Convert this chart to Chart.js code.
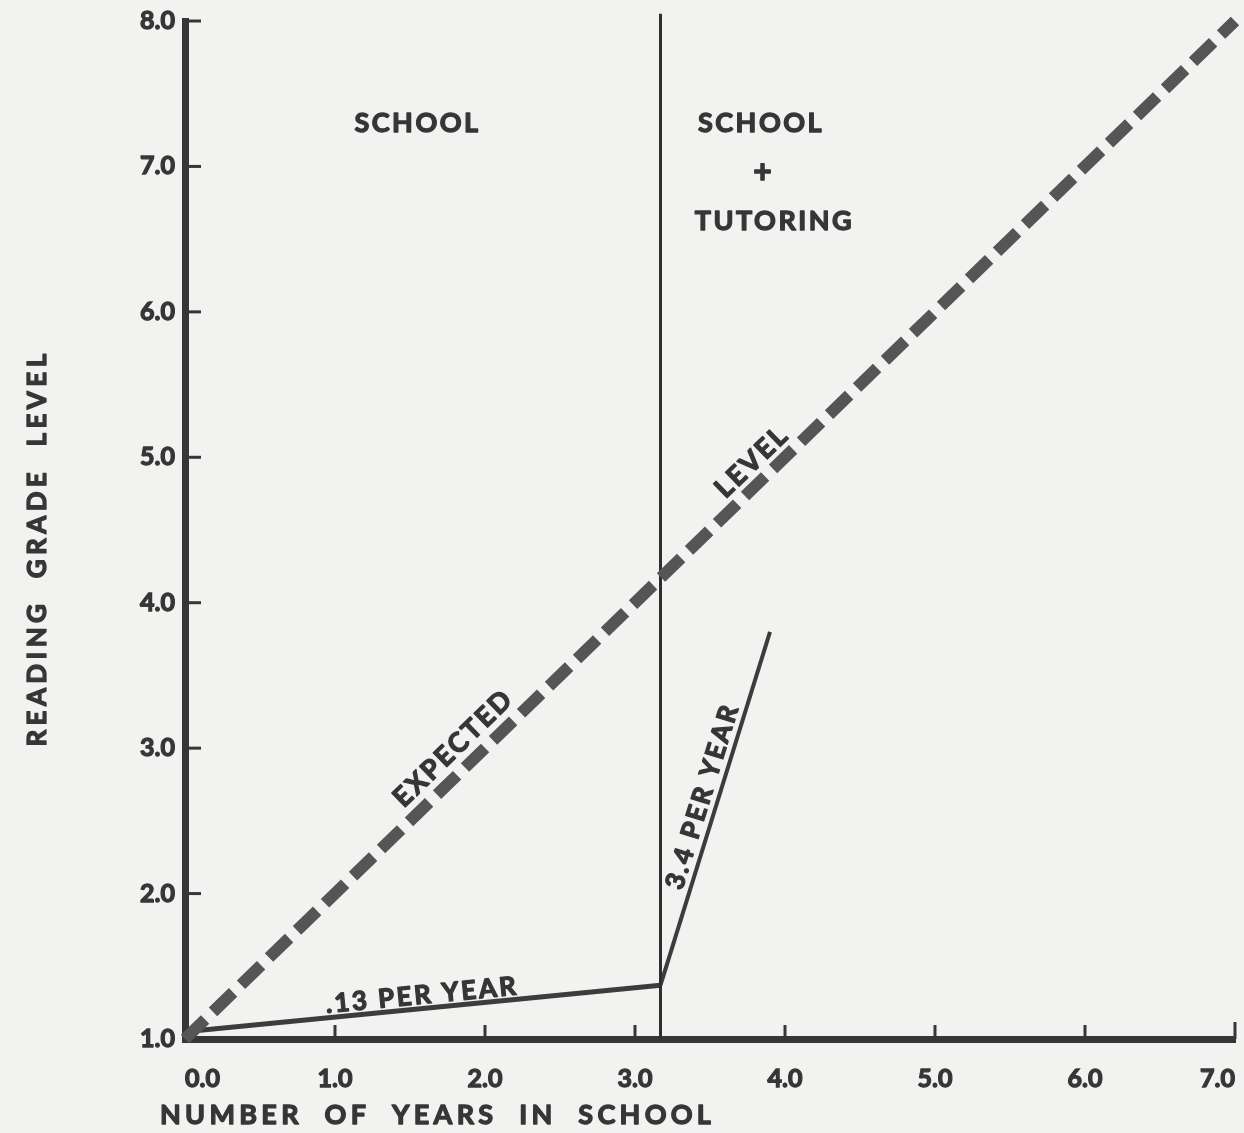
<!DOCTYPE html>
<html>
<head>
<meta charset="utf-8">
<script src="https://cdn.jsdelivr.net/npm/chart.js@4.4.1/dist/chart.umd.min.js"></script>
<style>
  html, body { margin: 0; padding: 0; background: #f2f2f0; }
  #wrap { width: 1244px; height: 1133px; position: relative; }
</style>
</head>
<body>
<div id="wrap"><canvas id="chart-reading"></canvas></div>
<script>
// tick values
var xTicks = [0, 1, 2, 3, 4, 5, 6, 7];
var yTicks = [1, 2, 3, 4, 5, 6, 7, 8];

// expected grade level (dashed)
var expectedX = [0, 7];
var expectedY = [1.0, 8.0];

// school only, .13 per year
var schoolX = [0, 3.17];
var schoolY = [1.05, 1.37];

// school + tutoring, 3.4 per year
var tutorX = [3.17, 3.9];
var tutorY = [1.37, 3.8];

// divider between the two periods
var dividerX = [3.17, 3.17];
var dividerY = [1.0, 8.05];

var INK = '#363636';
var FONT = 'Lato, "DejaVu Sans", sans-serif';
var WEIGHT = 'bold';
var STROKE = 1.3;

function pts(xs, ys) {
    return xs.map(function (x, i) { return { x: x, y: ys[i] }; });
}

// text labels placed in data units
var notes = [
    { text: 'SCHOOL', x: 1.55, y: 7.30, angle: 0, size: 27, spacing: 2.5 },
    { text: 'SCHOOL', x: 3.84, y: 7.30, angle: 0, size: 27, spacing: 2.5 },
    { text: '+', x: 3.85, y: 6.96, angle: 0, size: 32, spacing: 0 },
    { text: 'TUTORING', x: 3.93, y: 6.62, angle: 0, size: 27, spacing: 2.5 },
    { text: '.13 PER YEAR', x: 1.58, y: 1.30, angle: -5.5, size: 26, spacing: 2.5 },
    { text: '3.4 PER YEAR', x: 3.45, y: 2.67, angle: -72.8, size: 26, spacing: 2.5 },
    { text: 'EXPECTED', x: 1.79, y: 3.0, angle: -44.1, size: 27, spacing: 2.5 },
    { text: 'LEVEL', x: 3.78, y: 4.97, angle: -44.1, size: 27, spacing: 2.5 }
];

function inkText(ctx, text, x, y) {
    ctx.fillStyle = INK;
    ctx.strokeStyle = INK;
    ctx.lineWidth = STROKE;
    ctx.lineJoin = 'round';
    ctx.fillText(text, x, y);
    ctx.strokeText(text, x, y);
}

function drawText(ctx, text, px, py, angle, size, spacing) {
    ctx.save();
    ctx.translate(px, py);
    ctx.rotate(angle * Math.PI / 180);
    ctx.font = WEIGHT + ' ' + size + 'px ' + FONT;
    ctx.letterSpacing = spacing + 'px';
    ctx.textAlign = 'center';
    ctx.textBaseline = 'middle';
    inkText(ctx, text, 0, 0);
    ctx.restore();
}

var paperPlugin = {
    id: 'paper',
    beforeDraw: function (chart) {
        var ctx = chart.ctx;
        ctx.save();
        ctx.fillStyle = '#f2f2f0';
        ctx.fillRect(0, 0, chart.width, chart.height);
        ctx.restore();
    }
};

var notesPlugin = {
    id: 'notes',
    afterDraw: function (chart) {
        var ctx = chart.ctx;
        var xs = chart.scales.x, ys = chart.scales.y;
        var area = chart.chartArea;

        // inward tick marks
        ctx.save();
        ctx.strokeStyle = INK;
        ctx.lineWidth = 3;
        xTicks.forEach(function (v) {
            if (v === 0) return;
            var px = xs.getPixelForValue(v);
            ctx.beginPath();
            ctx.moveTo(px, area.bottom);
            ctx.lineTo(px, area.bottom - (v === 7 ? 17 : 14));
            ctx.stroke();
        });
        yTicks.forEach(function (v) {
            if (v === 1) return;
            var py = ys.getPixelForValue(v);
            ctx.beginPath();
            ctx.moveTo(area.left, py);
            ctx.lineTo(area.left + 16, py);
            ctx.stroke();
        });
        ctx.restore();

        notes.forEach(function (n) {
            drawText(ctx, n.text, xs.getPixelForValue(n.x), ys.getPixelForValue(n.y),
                n.angle, n.size, n.spacing);
        });

        // axis titles
        ctx.save();
        ctx.font = WEIGHT + ' 27px ' + FONT;
        ctx.letterSpacing = '4.3px';
        ctx.textAlign = 'left';
        ctx.textBaseline = 'alphabetic';
        inkText(ctx, 'NUMBER  OF  YEARS  IN  SCHOOL', 160, 1124);
        ctx.restore();

        ctx.save();
        ctx.translate(46, 548);
        ctx.rotate(-Math.PI / 2);
        ctx.font = WEIGHT + ' 26px ' + FONT;
        ctx.letterSpacing = '4.4px';
        ctx.textAlign = 'center';
        ctx.textBaseline = 'alphabetic';
        inkText(ctx, 'READING  GRADE  LEVEL', 0, 0);
        ctx.restore();
    }
};

var ctx = document.getElementById('chart-reading');
new Chart(ctx, {
    type: 'scatter',
    data: {
        datasets: [
            {
                label: 'Expected level',
                data: pts(expectedX, expectedY),
                showLine: true,
                borderColor: '#555555',
                borderWidth: 12,
                borderDash: [28, 11],
                borderCapStyle: 'butt',
                pointRadius: 0,
                clip: false
            },
            {
                label: 'Divider',
                data: pts(dividerX, dividerY),
                showLine: true,
                borderColor: '#2e2e2e',
                borderWidth: 3,
                pointRadius: 0,
                clip: false
            },
            {
                label: 'School',
                data: pts(schoolX, schoolY),
                showLine: true,
                borderColor: '#3c3c3c',
                borderWidth: 5,
                pointRadius: 0
            },
            {
                label: 'School + tutoring',
                data: pts(tutorX, tutorY),
                showLine: true,
                borderColor: '#3c3c3c',
                borderWidth: 4,
                pointRadius: 0
            }
        ]
    },
    options: {
        responsive: true,
        maintainAspectRatio: false,
        animation: false,
        events: [],
        layout: { padding: { top: 21, right: 9, bottom: 0, left: 0 } },
        plugins: {
            legend: { display: false },
            tooltip: { enabled: false }
        },
        scales: {
            x: {
                type: 'linear',
                min: 0,
                max: 7,
                afterBuildTicks: function (scale) {
                    scale.ticks = xTicks.map(function (v) { return { value: v }; });
                },
                afterFit: function (scale) {
                    scale.height = 94;
                    scale.paddingLeft = 0;
                    scale.paddingRight = 0;
                },
                grid: { display: false, drawTicks: false },
                border: { display: true, color: INK, width: 7 },
                ticks: {
                    align: 'inner',
                    padding: 25,
                    color: INK,
                    textStrokeColor: INK,
                    textStrokeWidth: STROKE,
                    font: { family: FONT, size: 25, weight: WEIGHT },
                    callback: function (v) { return Number(v).toFixed(1); }
                }
            },
            y: {
                type: 'linear',
                min: 1,
                max: 8,
                afterBuildTicks: function (scale) {
                    scale.ticks = yTicks.map(function (v) { return { value: v }; });
                },
                afterFit: function (scale) {
                    scale.width = 185;
                    scale.paddingTop = 0;
                    scale.paddingBottom = 0;
                },
                grid: { display: false, drawTicks: false },
                border: { display: true, color: INK, width: 7 },
                ticks: {
                    padding: 10,
                    color: INK,
                    textStrokeColor: INK,
                    textStrokeWidth: STROKE,
                    font: { family: FONT, size: 25, weight: WEIGHT },
                    callback: function (v) { return Number(v).toFixed(1); }
                }
            }
        }
    },
    plugins: [paperPlugin, notesPlugin]
});
</script>
</body>
</html>
